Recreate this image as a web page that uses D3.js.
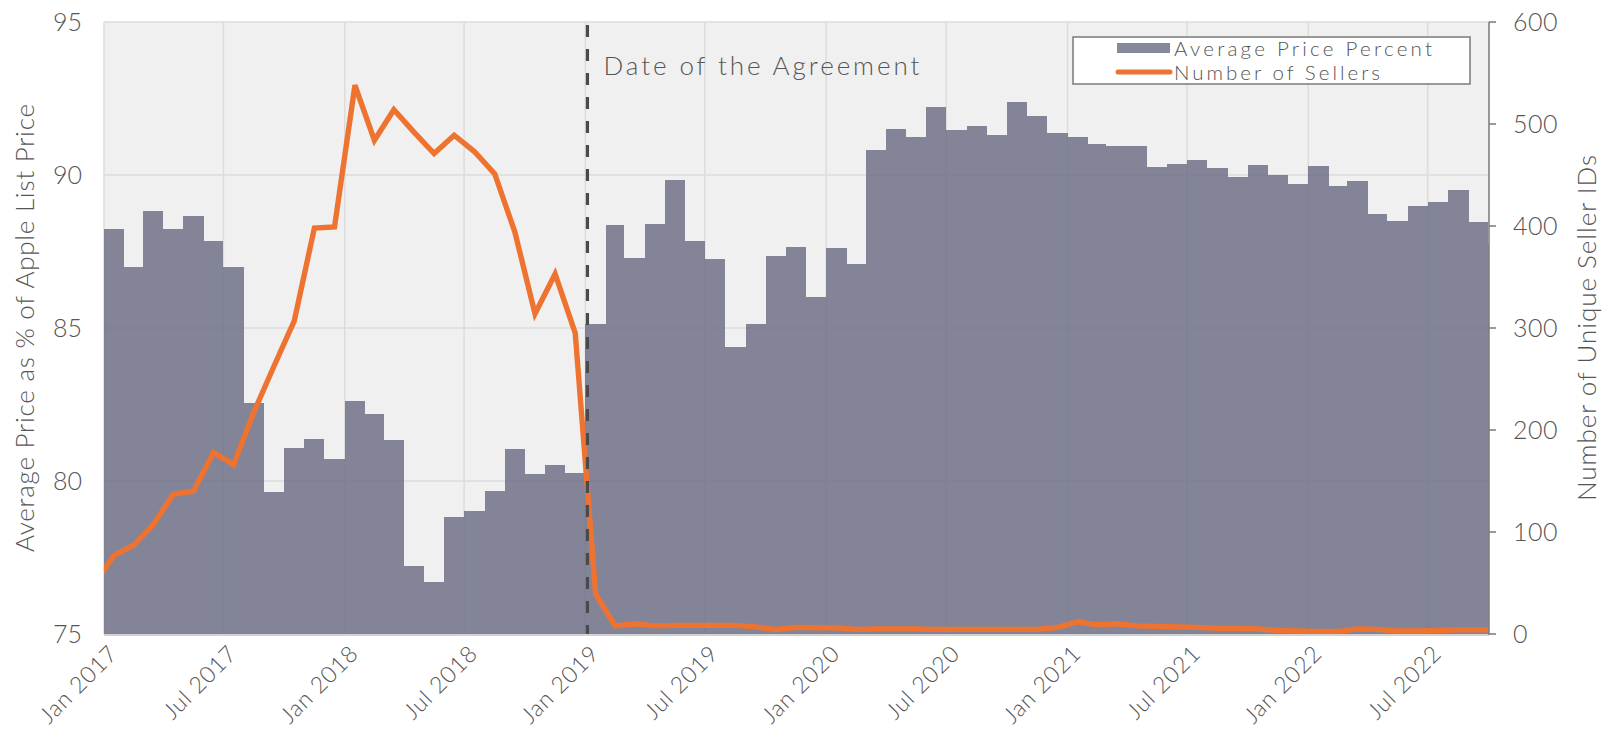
<!DOCTYPE html>
<html>
<head>
<meta charset="utf-8">
<script src="https://cdn.jsdelivr.net/npm/d3@7"></script>
<style>
  html, body { margin: 0; padding: 0; background: #ffffff; }
  svg { display: block; }
  text { font-family: "Lato", "Open Sans", sans-serif; font-weight: 300; fill: #555555; }
</style>
</head>
<body>
<svg id="chart" width="1602" height="735"></svg>
<script>
// ---- data ----
const firstMonth = "2016-12";
const lastMonth = "2022-10";
const priceValues = [
  90.5,
  88.25, 87.0, 88.83, 88.25, 88.66, 87.85, 87.0, 82.56, 79.65, 81.08, 81.37, 80.71,
  82.6, 82.2, 81.35, 77.23, 76.69, 78.83, 79.01, 79.66, 81.04, 80.22, 80.53, 80.25,
  85.13, 88.36, 87.29, 88.4, 89.85, 87.85, 87.26, 84.39, 85.12, 87.35, 87.66, 86.01,
  87.6, 87.08, 90.83, 91.49, 91.25, 92.23, 91.47, 91.61, 91.31, 92.39, 91.93, 91.36,
  91.25, 91.0, 90.95, 90.96, 90.27, 90.36, 90.48, 90.23, 89.94, 90.33, 89.99, 89.7,
  90.28, 89.63, 89.79, 88.72, 88.51, 88.99, 89.11, 89.5, 88.45, 87.74
];
const sellerValues = [
  49,
  77, 87, 107, 137, 140, 178, 166, 218, 263, 307, 398, 399,
  538, 484, 514, 492, 471, 489, 473, 451, 394, 314, 353, 295,
  39, 8, 10, 8, 8.5, 8.5, 8.5, 8.5, 7, 4.5, 6.5, 6.2,
  6, 4.5, 5, 5, 5, 4.5, 4.5, 4.5, 4.5, 4.5, 4.5, 6.5,
  12, 9, 10, 8, 7.5, 7, 6.5, 5.5, 5.5, 5, 3.5, 3,
  2.5, 2.5, 5, 4.5, 3, 3, 3.5, 4, 4, 4
];
const leftTicks = [75, 80, 85, 90, 95];
const rightTicks = [0, 100, 200, 300, 400, 500, 600];
const agreementDate = "2019-01-04";
const agreementLabel = "Date of the Agreement";
const leftTitle = "Average Price as % of Apple List Price";
const rightTitle = "Number of Unique Seller IDs";
const legendLabels = ["Average Price Percent", "Number of Sellers"];

// ---- layout ----
const W = 1602, H = 735;
const X0 = 104, X1 = 1489, Y0 = 22, Y1 = 634;
const barColor = "rgb(104,106,130)";
const lineColor = "#ee7331";
const gridColor = "#dcdcdc";

const parseM = d3.timeParse("%Y-%m");
const parseD = d3.timeParse("%Y-%m-%d");
const months = d3.timeMonth.range(parseM(firstMonth), d3.timeMonth.offset(parseM(lastMonth), 1));
const data = months.map((m, i) => ({ m, price: priceValues[i], sellers: sellerValues[i] }));

const x = d3.scaleTime().domain([new Date(2017, 0, 1), new Date(2022, 9, 2)]).range([X0, X1]);
const yL = d3.scaleLinear().domain([75, 95]).range([Y1, Y0]);
const yR = d3.scaleLinear().domain([0, 600]).range([Y1, Y0]);

const svg = d3.select("#chart");
svg.append("defs").append("clipPath").attr("id", "plotclip")
  .append("rect").attr("x", X0).attr("y", Y0 - 3).attr("width", X1 - X0).attr("height", Y1 - Y0 + 3);

// background
svg.append("rect").attr("x", X0).attr("y", Y0).attr("width", X1 - X0).attr("height", Y1 - Y0).attr("fill", "#f0f0f0");

// gridlines
const xTicks = d3.timeMonth.every(6).range(new Date(2017, 0, 1), new Date(2022, 9, 1));
const grid = svg.append("g");
grid.selectAll("line.v").data(xTicks).join("line")
  .attr("x1", d => x(d)).attr("x2", d => x(d)).attr("y1", Y0).attr("y2", Y1)
  .attr("stroke", gridColor).attr("stroke-width", 1.5);
grid.selectAll("line.h").data(leftTicks.filter(t => t > 75)).join("line")
  .attr("x1", X0).attr("x2", X1).attr("y1", d => yL(d)).attr("y2", d => yL(d))
  .attr("stroke", gridColor).attr("stroke-width", 1.5);

// bars
const plot = svg.append("g").attr("clip-path", "url(#plotclip)");
plot.append("g").attr("opacity", 0.8)
  .selectAll("rect").data(data).join("rect")
  .attr("x", d => x(d.m))
  .attr("width", d => x(d3.timeMonth.offset(d.m, 1)) - x(d.m))
  .attr("y", d => yL(d.price))
  .attr("height", d => Y1 - yL(d.price))
  .attr("fill", barColor)
  .attr("shape-rendering", "crispEdges");

// bottom axis line
svg.append("line").attr("x1", X0).attr("x2", X1).attr("y1", Y1 + 1).attr("y2", Y1 + 1)
  .attr("stroke", "#d2d2d2").attr("stroke-width", 2);

// agreement dashed line
const xa = x(parseD(agreementDate));
svg.append("line").attr("x1", xa).attr("x2", xa).attr("y1", Y0).attr("y2", Y1)
  .attr("stroke", "#4a4a4a").attr("stroke-width", 3.2)
  .attr("stroke-dasharray", "12,12").attr("stroke-dashoffset", -3);

// sellers line
const mid = d => new Date((d.m.getTime() + d3.timeMonth.offset(d.m, 1).getTime()) / 2);
plot.append("path").datum(data)
  .attr("fill", "none").attr("stroke", lineColor).attr("stroke-width", 5.4)
  .attr("stroke-linejoin", "miter").attr("stroke-miterlimit", 3)
  .attr("d", d3.line().x(d => x(mid(d))).y(d => yR(d.sellers)));

// left tick labels
svg.append("g").selectAll("text").data(leftTicks).join("text")
  .attr("x", 82).attr("y", d => yL(d)).attr("dy", "0.35em")
  .attr("text-anchor", "end").style("font-size", "25px").text(d => d);

// right axis
const ra = svg.append("g");
ra.append("line").attr("x1", X1).attr("x2", X1).attr("y1", Y0).attr("y2", Y1 + 1)
  .attr("stroke", "#808080").attr("stroke-width", 1.6);
ra.selectAll("line.t").data(rightTicks).join("line")
  .attr("x1", X1).attr("x2", X1 + 7).attr("y1", d => yR(d)).attr("y2", d => yR(d))
  .attr("stroke", "#808080").attr("stroke-width", 1.6);
ra.selectAll("text").data(rightTicks).join("text")
  .attr("x", 1513).attr("y", d => yR(d)).attr("dy", "0.35em")
  .style("font-size", "25px").style("letter-spacing", "0.5px").text(d => d);

// x tick labels
const fmt = d3.timeFormat("%b %Y");
svg.append("g").selectAll("text").data(xTicks).join("text")
  .attr("transform", d => `translate(${x(d) + 15},${Y1 + 21}) rotate(-45)`)
  .attr("text-anchor", "end").style("font-size", "23px").style("letter-spacing", "0.8px")
  .text(d => fmt(d));

// axis titles
svg.append("text").attr("transform", `translate(34,${(Y0 + Y1) / 2}) rotate(-90)`)
  .attr("text-anchor", "middle").style("font-size", "26px")
  .attr("textLength", 448).attr("lengthAdjust", "spacing").text(leftTitle);
svg.append("text").attr("transform", `translate(1596,${(Y0 + Y1) / 2}) rotate(-90)`)
  .attr("text-anchor", "middle").style("font-size", "26px")
  .attr("textLength", 346).attr("lengthAdjust", "spacing").text(rightTitle);

// agreement label
svg.append("text").attr("x", xa + 16).attr("y", 75)
  .style("font-size", "26px")
  .attr("textLength", 316).attr("lengthAdjust", "spacing").text(agreementLabel);

// legend
const lg = svg.append("g");
lg.append("rect").attr("x", 1073).attr("y", 37).attr("width", 397).attr("height", 47)
  .attr("fill", "#ffffff").attr("stroke", "#7a7a7a").attr("stroke-width", 1.5);
lg.append("rect").attr("x", 1117).attr("y", 43).attr("width", 53).attr("height", 10)
  .attr("fill", barColor).attr("opacity", 0.8);
lg.append("line").attr("x1", 1118).attr("x2", 1170).attr("y1", 72).attr("y2", 72)
  .attr("stroke", lineColor).attr("stroke-width", 5).attr("stroke-linecap", "round");
const legendLengths = [258, 206];
lg.selectAll("text").data(legendLabels).join("text")
  .attr("x", 1174).attr("y", (d, i) => 55.5 + i * 24.5)
  .style("font-size", "20.5px")
  .attr("textLength", (d, i) => legendLengths[i]).attr("lengthAdjust", "spacing")
  .text(d => d);
</script>
</body>
</html>
